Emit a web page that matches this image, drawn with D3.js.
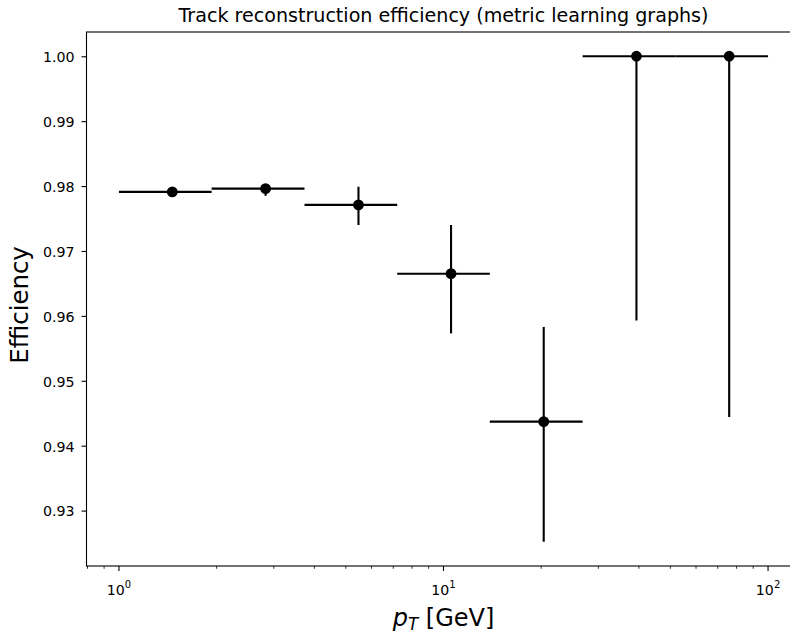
<!DOCTYPE html>
<html>
<head>
<meta charset="utf-8">
<script src="https://cdn.jsdelivr.net/npm/d3@7"></script>
<style>
  html, body { margin: 0; padding: 0; background: #fff; }
  svg { display: block; font-family: "DejaVu Sans", sans-serif; }
</style>
</head>
<body>
<svg id="chart" width="790" height="633"></svg>
<script>
// pT bin edges [GeV] (log-spaced)
const binEdges = [1.0, 1.93, 3.73, 7.20, 13.89, 26.83, 51.79, 100.0];
// bin centres (arithmetic mean of edges) used for the markers
const ptCentres = [1.46, 2.83, 5.47, 10.55, 20.36, 39.31, 75.90];
// track reconstruction efficiency per bin
const efficiency = [0.9791, 0.9796, 0.9771, 0.9665, 0.9437, 1.0, 1.0];
// asymmetric uncertainties (below / above)
const errLow  = [0.0003, 0.0011, 0.0031, 0.0092, 0.0185, 0.0407, 0.0556];
const errHigh = [0.0003, 0.0003, 0.0028, 0.0075, 0.0146, 0.0, 0.0];
// axis ticks
const yTicks = [0.93, 0.94, 0.95, 0.96, 0.97, 0.98, 0.99, 1.00];
const xMajorExp = [0, 1, 2];

const titleText = "Track reconstruction efficiency (metric learning graphs)";
const yLabelText = "Efficiency";

const svg = d3.select("#chart");
const plot = { left: 86.5, right: 800.5, top: 32, bottom: 566 };

// data limits with a 5% margin (log space on x)
const xLo = Math.log10(binEdges[0]), xHi = Math.log10(binEdges[binEdges.length - 1]);
const xPad = (xHi - xLo) * 0.05;
const x = d3.scaleLog()
  .domain([Math.pow(10, xLo - xPad), Math.pow(10, xHi + xPad)])
  .range([plot.left, plot.right]);

const yMin = d3.min(efficiency.map((v, i) => v - errLow[i]));
const yMax = d3.max(efficiency.map((v, i) => v + errHigh[i]));
const yPad = (yMax - yMin) * 0.05;
const y = d3.scaleLinear()
  .domain([yMin - yPad, yMax + yPad])
  .range([plot.bottom, plot.top]);

const ink = "#000";

// error bars and markers
const g = svg.append("g");
const rows = ptCentres.map((c, i) => ({
  c, lo: binEdges[i], hi: binEdges[i + 1], v: efficiency[i], el: errLow[i], eh: errHigh[i]
}));

g.selectAll("line.xerr").data(rows).enter().append("line")
  .attr("class", "xerr")
  .attr("x1", d => x(d.lo)).attr("x2", d => x(d.hi))
  .attr("y1", d => y(d.v)).attr("y2", d => y(d.v))
  .attr("stroke", ink).attr("stroke-width", 2.1);

g.selectAll("line.yerr").data(rows).enter().append("line")
  .attr("class", "yerr")
  .attr("x1", d => x(d.c)).attr("x2", d => x(d.c))
  .attr("y1", d => y(d.v - d.el)).attr("y2", d => y(d.v + d.eh))
  .attr("stroke", ink).attr("stroke-width", 2.1);

g.selectAll("circle").data(rows).enter().append("circle")
  .attr("cx", d => x(d.c)).attr("cy", d => y(d.v))
  .attr("r", 5.4).attr("fill", ink);

// y axis
const yAxis = d3.axisLeft(y).tickValues(yTicks).tickFormat(d3.format(".2f"))
  .tickSize(5).tickPadding(7);
const gy = svg.append("g").attr("transform", `translate(${plot.left},0)`).call(yAxis);
gy.select(".domain").remove();
gy.selectAll(".tick line").attr("stroke", ink).attr("stroke-width", 1.1);
gy.selectAll(".tick text").attr("font-size", 14.2).attr("fill", ink)
  .attr("font-family", "DejaVu Sans").attr("dy", "0.38em");

// x axis: minor ticks
const [dLo, dHi] = x.domain();
const minor = [];
for (let e = -1; e <= 2; e++) {
  for (let m = 2; m <= 9; m++) {
    const v = m * Math.pow(10, e);
    if (v >= dLo && v <= dHi) minor.push(v);
  }
}
const gx = svg.append("g").attr("transform", `translate(0,${plot.bottom})`);
gx.selectAll("line.minor").data(minor).enter().append("line")
  .attr("x1", d => x(d)).attr("x2", d => x(d))
  .attr("y1", 0).attr("y2", 2.8)
  .attr("stroke", ink).attr("stroke-width", 0.8);

// x axis: major ticks with 10^n labels
const major = gx.selectAll("g.major").data(xMajorExp).enter().append("g")
  .attr("transform", d => `translate(${x(Math.pow(10, d))},0)`);
major.append("line").attr("y1", 0).attr("y2", 5)
  .attr("stroke", ink).attr("stroke-width", 1.1);
const lbl = major.append("text")
  .attr("y", 29).attr("text-anchor", "middle")
  .attr("font-size", 14.2).attr("fill", ink);
lbl.append("tspan").text("10");
lbl.append("tspan").attr("font-size", 10).attr("dy", -6.7).text(d => d);

// frame
svg.append("rect")
  .attr("x", plot.left).attr("y", plot.top)
  .attr("width", plot.right - plot.left).attr("height", plot.bottom - plot.top)
  .attr("fill", "none").attr("stroke", ink).attr("stroke-width", 1.1);

// title
svg.append("text")
  .attr("x", (plot.left + plot.right) / 2).attr("y", 22)
  .attr("text-anchor", "middle").attr("font-size", 19.1).attr("fill", ink)
  .text(titleText);

// x label: p_T [GeV]
const xl = svg.append("text")
  .attr("x", (plot.left + plot.right) / 2).attr("y", 626)
  .attr("text-anchor", "middle").attr("font-size", 24).attr("fill", ink);
xl.append("tspan").attr("font-style", "italic").text("p");
xl.append("tspan").attr("font-style", "italic").attr("font-size", 16.8).attr("dy", 3.5).text("T");
xl.append("tspan").attr("dy", -3.5).text(" [GeV]");

// y label
svg.append("text")
  .attr("transform", `translate(28,${(plot.top + plot.bottom) / 2 + 6}) rotate(-90)`)
  .attr("text-anchor", "middle").attr("font-size", 24.4).attr("fill", ink)
  .text(yLabelText);
</script>
</body>
</html>
